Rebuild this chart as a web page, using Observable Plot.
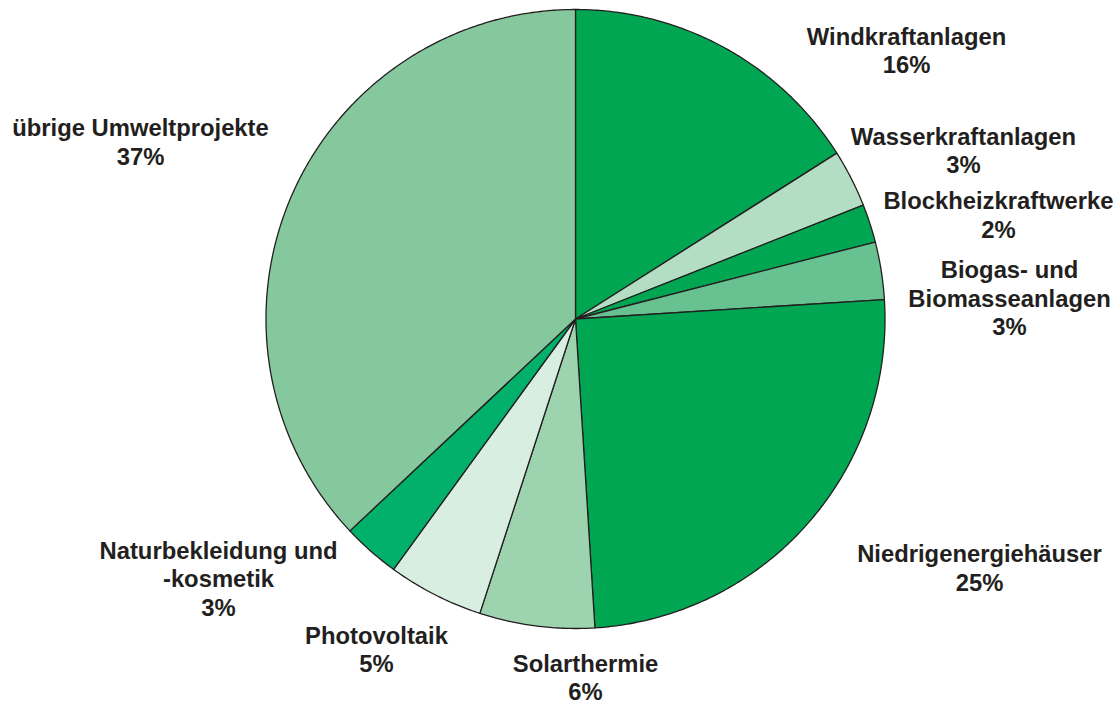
<!DOCTYPE html>
<html>
<head>
<meta charset="utf-8">
<script src="https://cdn.jsdelivr.net/npm/d3@7"></script>
<script src="https://cdn.jsdelivr.net/npm/@observablehq/plot@0.6"></script>
<style>
  html, body { margin: 0; padding: 0; background: #fff; }
  #chart svg { display: block; }
</style>
</head>
<body>
<div id="chart"></div>
<script>
// --- data ---
const categories = [
  "Windkraftanlagen",
  "Wasserkraftanlagen",
  "Blockheizkraftwerke",
  "Biogas- und Biomasseanlagen",
  "Niedrigenergiehäuser",
  "Solarthermie",
  "Photovoltaik",
  "Naturbekleidung und -kosmetik",
  "übrige Umweltprojekte"
];
const values = [16, 3, 2, 3, 25, 6, 5, 3, 37];
const labelNames = [
  "Windkraftanlagen",
  "Wasserkraftanlagen",
  "Blockheizkraftwerke",
  "Biogas- und\nBiomasseanlagen",
  "Niedrigenergiehäuser",
  "Solarthermie",
  "Photovoltaik",
  "Naturbekleidung und\n-kosmetik",
  "übrige Umweltprojekte"
];

// --- styles / layout ---
const colors = ["#00a651", "#b3dec3", "#00a651", "#68c190", "#00a651", "#9dd3af", "#d8eee0", "#00b06b", "#86c89d"];
const labelPos = [
  [906, 49.5], [963, 149.5], [998, 214], [1009, 297], [979, 567],
  [585, 676.5], [376, 648.5], [218, 577.5], [140, 141]
];
const W = 1118, H = 706, cx = 575, cy = 318.5, R = 309.5;

const arcs = d3.pie().sort(null)(values);
const slicePts = [];
arcs.forEach((a, i) => {
  const cat = categories[i];
  slicePts.push({cat, x: cx, y: cy});
  const n = Math.max(4, Math.ceil((a.endAngle - a.startAngle) / (Math.PI / 360)));
  for (let k = 0; k <= n; k++) {
    const t = a.startAngle + (a.endAngle - a.startAngle) * k / n;
    slicePts.push({cat, x: cx + R * Math.sin(t), y: cy - R * Math.cos(t)});
  }
});

const labels = categories.map((c, i) => ({
  text: labelNames[i] + "\n" + values[i] + "%",
  x: labelPos[i][0], y: labelPos[i][1]
}));

const chart = Plot.plot({
  width: W, height: H,
  margin: 0,
  x: {domain: [0, W], range: [0, W], axis: null},
  y: {domain: [0, H], range: [0, H], axis: null},
  color: {domain: categories, range: colors},
  style: {fontFamily: "'Liberation Sans', Arial, Helvetica, sans-serif", background: "#fff"},
  marks: [
    Plot.line(slicePts, {
      x: "x", y: "y", z: "cat", fill: "cat",
      stroke: "#231f20", strokeWidth: 1.3, strokeLinejoin: "round",
      curve: "linear-closed"
    }),
    Plot.text(labels, {
      x: "x", y: "y", text: "text",
      fontSize: 23.8, fontWeight: "bold", fill: "#231f20",
      lineHeight: 28.5 / 23.8, textAnchor: "middle", lineAnchor: "middle"
    })
  ]
});
document.getElementById("chart").appendChild(chart);
</script>
</body>
</html>
